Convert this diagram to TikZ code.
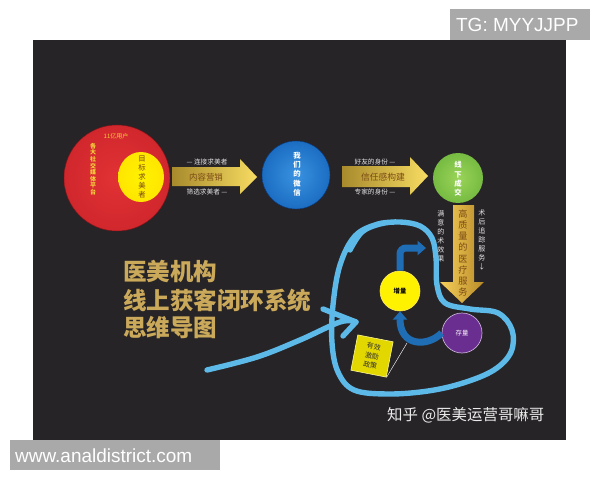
\documentclass[tikz,border=0pt]{standalone}
\usepackage{fontspec}
\setsansfont{Liberation Sans}
\newfontfamily\cjk{Noto Sans CJK SC}
\usetikzlibrary{shapes.geometric,arrows.meta}
\definecolor{panel}{HTML}{272427}
\definecolor{boxgray}{HTML}{A9A9A9}
\definecolor{lblgray}{HTML}{E2E2E2}
\definecolor{gold}{HTML}{CBA95A}
\definecolor{goldL}{HTML}{A88A2C}
\definecolor{goldR}{HTML}{F7DC62}
\definecolor{goldB}{HTML}{F6CF5A}
\definecolor{goldC}{HTML}{B88A28}
\definecolor{brownt}{HTML}{7A4A14}
\definecolor{yellowt}{HTML}{F5D23A}
\definecolor{arrblue}{HTML}{1F6DB5}
\definecolor{penblue}{HTML}{5CB9E8}
\definecolor{purp}{HTML}{6A2D90}
\definecolor{redA}{HTML}{E23234}
\definecolor{redB}{HTML}{C8222A}
\definecolor{redC}{HTML}{7E1418}
\definecolor{blueA}{HTML}{3A92E0}
\definecolor{blueB}{HTML}{1060B8}
\definecolor{blueC}{HTML}{0A3A7E}
\definecolor{greenA}{HTML}{9AD458}
\definecolor{greenB}{HTML}{6AB23A}
\definecolor{greenC}{HTML}{3E8A22}
\definecolor{yelA}{HTML}{FFF200}
\definecolor{yelB}{HTML}{FFE000}
\definecolor{yelC}{HTML}{F2A000}
\pgfdeclareradialshading{redball}{\pgfpointorigin}{color(0bp)=(redA); color(36bp)=(redB); color(50bp)=(redC)}
\pgfdeclareradialshading{blueball}{\pgfpointorigin}{color(0bp)=(blueA); color(34bp)=(blueB); color(50bp)=(blueC)}
\pgfdeclareradialshading{greenball}{\pgfpointorigin}{color(0bp)=(greenA); color(34bp)=(greenB); color(50bp)=(greenC)}
\pgfdeclareradialshading{yelball}{\pgfpointorigin}{color(0bp)=(yelA); color(36bp)=(yelB); color(50bp)=(yelC)}

\begin{document}
\begin{tikzpicture}[x=0.05cm,y=-0.05cm,
    lbl/.style={font=\cjk\fontsize{9.5}{12}\selectfont,text=lblgray,inner sep=0pt},
    vcol/.style={align=center,inner sep=0pt},
    ball/.style={circle,inner sep=0pt},
    goldarr/.style={left color=goldL,right color=goldR},
    bluearr/.style={draw=arrblue,line width=0.35cm,-{Triangle[width=0.7cm,length=0.42cm]}},
    pen/.style={draw=penblue,line width=0.27cm,line cap=round,line join=round}]
\useasboundingbox (0,0) rectangle (600,480);
\fill[white] (0,0) rectangle (600,480);
\fill[panel] (33,40) rectangle (566,440);

% corner tags
\fill[boxgray] (450,9) rectangle (590,40);
\node[anchor=west,inner sep=0pt,text=white,font=\sffamily\fontsize{27}{30}\selectfont] (tg) at (456,25) {TG: MYYJJPP};
\fill[boxgray] (10,440) rectangle (220,470);
\node[anchor=west,inner sep=0pt,text=white,font=\sffamily\fontsize{27}{30}\selectfont] (site) at (15,456) {www.analdistrict.com};

% social media
\node[ball,minimum size=5.3cm,shading=redball,draw=redC,line width=0.6pt] (media) at (117,178) {};
\node[inner sep=0pt,text=yellowt,font=\cjk\fontsize{8.5}{9}\selectfont] (users) at (116,136) {11亿用户};
\node[vcol,text=yellowt,font=\cjk\bfseries\fontsize{8.5}{9.3}\selectfont] (mediatxt) at (93,169) {各\\大\\社\\交\\媒\\体\\平\\台};
\node[ellipse,minimum width=2.3cm,minimum height=2.5cm,inner sep=0pt,shading=yelball] (target) at (141,177) {};
\node[vcol,text=brownt,font=\cjk\fontsize{10.5}{13}\selectfont] (targettxt) at (142,177) {目\\标\\求\\美\\者};

% first arrow
\shade[goldarr] (172,167) -- (240,167) -- (240,159) -- (257,177) -- (240,194) -- (240,186) -- (172,186) -- cycle;
\node[inner sep=0pt,text=brownt,font=\cjk\fontsize{12}{14}\selectfont] (content) at (206,177) {内容营销};
\node[lbl] (link) at (207,162) {— 连接求美者};
\node[lbl] (filter) at (207,192) {筛选求美者 —};

% wechat
\node[ball,minimum size=3.4cm,shading=blueball,draw=blueC,line width=0.6pt] (wechat) at (296,175) {};
\node[vcol,text=white,font=\cjk\bfseries\fontsize{10.5}{13.2}\selectfont] (wechattxt) at (297,174) {我\\们\\的\\微\\信};

% second arrow
\shade[goldarr] (342,166) -- (410,166) -- (410,157) -- (428,176) -- (410,195) -- (410,187) -- (342,187) -- cycle;
\node[inner sep=0pt,text=brownt,font=\cjk\fontsize{12.5}{14}\selectfont] (trust) at (383,177) {信任感构建};
\node[lbl] (friend) at (375,162) {好友的身份 —};
\node[lbl] (expert) at (375,192) {专家的身份 —};

% offline deal
\node[ball,minimum size=2.5cm,shading=greenball] (deal) at (458,178) {};
\node[vcol,text=white,font=\cjk\bfseries\fontsize{10.5}{13.2}\selectfont] (dealtxt) at (458,179) {线\\下\\成\\交};

% down arrow
\shade[left color=goldB,right color=goldC] (453,205) -- (474,205) -- (474,282) -- (484,282) -- (462,303) -- (440,282) -- (453,282) -- cycle;
\node[vcol,text=brownt,font=\cjk\fontsize{13}{16}\selectfont] (service) at (463,253) {高\\质\\量\\的\\医\\疗\\服\\务};
\node[vcol,text=lblgray,font=\cjk\fontsize{10}{12.8}\selectfont] (effect) at (441,236) {满\\意\\的\\术\\效\\果};
\node[vcol,text=lblgray,font=\cjk\fontsize{10}{12.8}\selectfont] (follow) at (482,240) {术\\后\\追\\踪\\服\\务\\↓};

% increment and stock
\node[ball,minimum size=2cm,fill=yelA,draw=yelB!60!white,line width=0.8pt,text=black,font=\cjk\bfseries\fontsize{9}{9}\selectfont] (inc) at (400,291) {增量};
\node[ball,minimum size=2cm,fill=purp,draw=purp!40!white,line width=1pt,text=white,font=\cjk\fontsize{9}{9}\selectfont] (stock) at (462,333) {存量};
\draw[bluearr,rounded corners=0.3cm] (inc.north) |- (426,248);
\draw[bluearr] (stock.west) .. controls (428,347) and (400,347) .. (inc.south);

\node[rectangle,minimum size=1.8cm,rotate=-11,fill=yellow!75!olive,draw=yellow!40!white,line width=0.8pt,
      align=center,text=black!80,font=\cjk\fontsize{10}{13.5}\selectfont] (policy) at (372,356) {有效\\激励\\政策};
\coordinate (hook) at (407,343);
\draw[white,line width=0.6pt] (policy.south east) -- (hook);

% title
\node[anchor=west,inner sep=0pt,text=gold,font=\cjk\bfseries\fontsize{33.5}{36}\selectfont] (title1) at (123,271) {医美机构};
\node[anchor=west,inner sep=0pt,text=gold,font=\cjk\bfseries\fontsize{33.5}{36}\selectfont] (title2) at (123,301) {线上获客闭环系统};
\node[anchor=west,inner sep=0pt,text=gold,font=\cjk\bfseries\fontsize{33.5}{36}\selectfont] (title3) at (123,328) {思维导图};

% hand drawn loop
\draw[pen] plot[smooth,tension=0.6] coordinates {(350,250) (362,232) (380,224) (400,222) (420,226) (432,238) (436,258) (437,285) (445,303) (470,309) (498,313) (512,330) (511,352) (494,370) (463,383) (428,391) (388,394) (354,390) (338,372) (332,343) (333,305) (340,265) (355,236) (378,224) (400,222)};
\draw[pen] plot[smooth,tension=0.6] coordinates {(207,370) (257,357) (300,340) (340,322) (356,322)};
\draw[pen] (323,309) -- (356,322) -- (343,336);

\node[anchor=west,inner sep=0pt,text=white!92!black,font=\cjk\fontsize{22}{24}\selectfont] (mark) at (387,415) {知乎 @医美运营哥嘛哥};
\end{tikzpicture}
\end{document}
